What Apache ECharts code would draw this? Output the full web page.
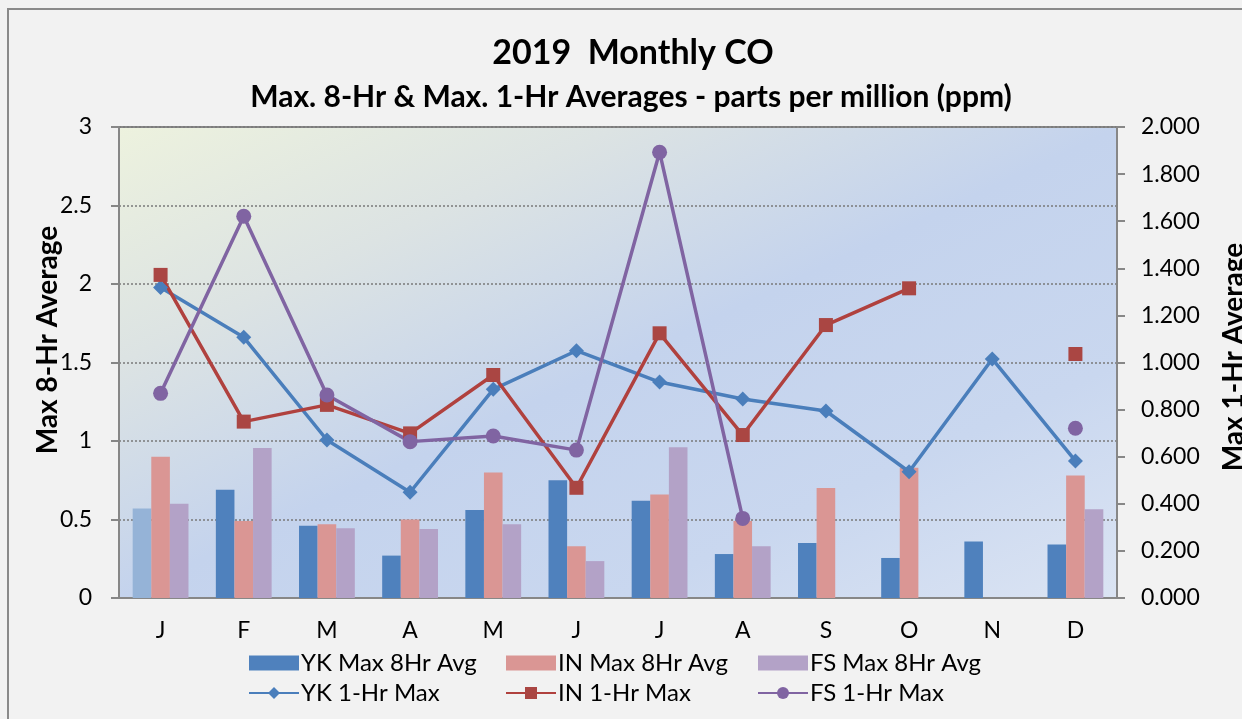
<!DOCTYPE html>
<html>
<head>
<meta charset="utf-8">
<script src="https://cdn.jsdelivr.net/npm/echarts@6/dist/echarts.min.js"></script>
<style>
    html, body { margin: 0; padding: 0; background: #f2f2f2; }
    #main { width: 1242px; height: 719px; }
</style>
</head>
<body>
<div id="main"></div>
<script>
const months = ['J', 'F', 'M', 'A', 'M', 'J', 'J', 'A', 'S', 'O', 'N', 'D'];

// Max 8-hr averages (left axis)
const ykAvg8 = [0.57, 0.69, 0.46, 0.27, 0.56, 0.75, 0.62, 0.28, 0.35, 0.255, 0.36, 0.34];
const inAvg8 = [0.90, 0.49, 0.47, 0.50, 0.80, 0.33, 0.66, 0.49, 0.70, 0.83, null, 0.78];
const fsAvg8 = [0.60, 0.955, 0.445, 0.44, 0.47, 0.235, 0.96, 0.33, null, null, null, 0.565];

// Max 1-hr (right axis)
const yk1hr = [1.318, 1.107, 0.671, 0.449, 0.886, 1.050, 0.917, 0.845, 0.794, 0.536, 1.015, 0.582];
const in1hr = [1.372, 0.749, 0.820, 0.699, 0.947, 0.468, 1.124, 0.692, 1.159, 1.315, null, 1.036];
const fs1hr = [0.869, 1.621, 0.862, 0.664, 0.688, 0.628, 1.893, 0.338, null, null, null, 0.721];

const font = 'Lato, "Open Sans", sans-serif';
const axisGray = '#878787';

const chart = echarts.init(document.getElementById('main'));

// first YK bar is drawn lighter in the original
const ykBarData = ykAvg8.map((v, i) => i === 0 ? {value: v, itemStyle: {color: '#95b3d7'}} : v);

function legendCol(left, names) {
    return {
        orient: 'vertical',
        left: left,
        top: 651,
        padding: 0,
        itemWidth: 50,
        itemHeight: 15,
        itemGap: 6,
        textStyle: {fontFamily: font, fontSize: 24, lineHeight: 24, color: '#000', padding: [0, 0, 0, -3]},
        data: [{name: names[0], icon: 'rect'}, {name: names[1]}]
    };
}

const option = {
    animation: false,
    backgroundColor: '#f2f2f2',
    title: [
        {
            text: '2019  Monthly CO',
            left: 633, top: 36, textAlign: 'center', padding: 0,
            textStyle: {fontFamily: font, fontSize: 34, fontWeight: 'bold', color: '#000'}
        },
        {
            text: 'Max. 8-Hr & Max. 1-Hr Averages - parts per million (ppm)',
            left: 631, top: 82, textAlign: 'center', padding: 0,
            textStyle: {fontFamily: font, fontSize: 30, fontWeight: 'bold', color: '#000'}
        }
    ],
    legend: [
        legendCol(248, ['YK Max 8Hr Avg', 'YK 1-Hr Max']),
        legendCol(505, ['IN Max 8Hr Avg', 'IN 1-Hr Max']),
        legendCol(757, ['FS Max 8Hr Avg', 'FS 1-Hr Max'])
    ],
    graphic: [
        {
            type: 'rect', silent: true,
            shape: {x: 8, y: 9, width: 1300, height: 800},
            style: {fill: null, stroke: '#8a8a8a', lineWidth: 2}
        },
        {
            type: 'text', x: 48, y: 340, rotation: Math.PI / 2,
            style: {
                text: 'Max 8-Hr Average', font: 'bold 28px ' + font, fill: '#000',
                align: 'center', verticalAlign: 'middle',
                textAlign: 'center', textVerticalAlign: 'middle'
            }
        },
        {
            type: 'text', x: 1234, y: 357, rotation: Math.PI / 2,
            style: {
                text: 'Max 1-Hr Average', font: 'bold 28px ' + font, fill: '#000',
                align: 'center', verticalAlign: 'middle',
                textAlign: 'center', textVerticalAlign: 'middle'
            }
        }
    ],
    grid: {
        left: 119, top: 127, width: 998, height: 471,
        show: true,
        borderColor: axisGray, borderWidth: 2,
        // gradient vector chosen so the mid colour runs corner to corner
        backgroundColor: {
            type: 'linear', x: 0, y: 0, x2: 0.364, y2: 1.636,
            colorStops: [
                {offset: 0, color: '#edf2de'},
                {offset: 0.25, color: '#dce3e3'},
                {offset: 0.5, color: '#c4d3ed'},
                {offset: 0.75, color: '#c9d7ef'},
                {offset: 1, color: '#dbe4f3'}
            ]
        }
    },
    xAxis: {
        type: 'category',
        data: months,
        axisLine: {lineStyle: {color: axisGray, width: 2}},
        axisTick: {length: 8, lineStyle: {color: axisGray, width: 2}},
        axisLabel: {fontFamily: font, fontSize: 23, color: '#000', margin: 21}
    },
    yAxis: [
        {
            type: 'value', min: 0, max: 3, interval: 0.5,
            axisLine: {show: true, lineStyle: {color: axisGray, width: 2}},
            axisTick: {show: true, length: 8, lineStyle: {color: axisGray, width: 2}},
            axisLabel: {fontFamily: font, fontSize: 23, color: '#000', margin: 27},
            splitLine: {lineStyle: {color: '#7a7a7a', width: 1.5, type: [2, 2]}}
        },
        {
            type: 'value', min: 0, max: 2, interval: 0.2,
            axisLine: {show: true, lineStyle: {color: axisGray, width: 2}},
            axisTick: {show: true, length: 8, lineStyle: {color: axisGray, width: 2}},
            axisLabel: {
                fontFamily: font, fontSize: 23, color: '#000', margin: 24,
                formatter: v => v.toFixed(3)
            },
            splitLine: {show: false}
        }
    ],
    series: [
        {
            name: 'YK Max 8Hr Avg', type: 'bar', data: ykBarData,
            barWidth: 18.6, barGap: '0%', itemStyle: {color: '#4f81bd'}
        },
        {
            name: 'IN Max 8Hr Avg', type: 'bar', data: inAvg8,
            barWidth: 18.6, barGap: '0%', itemStyle: {color: '#da9694'}
        },
        {
            name: 'FS Max 8Hr Avg', type: 'bar', data: fsAvg8,
            barWidth: 18.6, barGap: '0%', itemStyle: {color: '#b3a2c7'}
        },
        {
            name: 'YK 1-Hr Max', type: 'line', yAxisIndex: 1, data: yk1hr,
            symbol: 'diamond', symbolSize: 15,
            lineStyle: {color: '#4a7ebb', width: 3.5},
            itemStyle: {color: '#4a7ebb'}
        },
        {
            name: 'IN 1-Hr Max', type: 'line', yAxisIndex: 1, data: in1hr,
            symbol: 'rect', symbolSize: 14, connectNulls: false,
            lineStyle: {color: '#b0413e', width: 3.5},
            itemStyle: {color: '#aa4643'}
        },
        {
            name: 'FS 1-Hr Max', type: 'line', yAxisIndex: 1, data: fs1hr,
            symbol: 'circle', symbolSize: 15, connectNulls: false,
            lineStyle: {color: '#8064a2', width: 3.5},
            itemStyle: {color: '#8064a2'}
        }
    ]
};

chart.setOption(option);
</script>
</body>
</html>
